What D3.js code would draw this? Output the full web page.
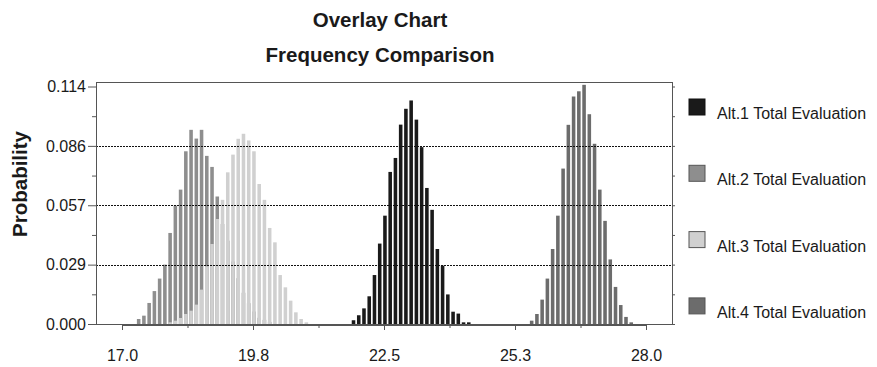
<!DOCTYPE html>
<html><head><meta charset="utf-8">
<script src="https://cdn.jsdelivr.net/npm/d3@7"></script>
<style>body{margin:0;background:#fff} svg{display:block} text{font-family:"Liberation Sans",Arial,sans-serif;fill:#1a1a1a}</style>
</head><body><svg id="c" width="877" height="367"></svg>
<script>
// ---- data ----
const seriesNames = ["Alt.1 Total Evaluation","Alt.2 Total Evaluation","Alt.3 Total Evaluation","Alt.4 Total Evaluation"];
const seriesColors = ["#1a1a1a","#8e8e8e","#d0d0d0","#6c6c6c"];
const binWidth = 0.11;
const alt1FirstBin = 21.86;
const alt1Values = [0.0018,0.0042,0.0075,0.0133,0.0235,0.0386,0.0520,0.0730,0.0797,0.0957,0.1033,0.1073,0.0981,0.0849,0.0653,0.0548,0.0360,0.0280,0.0142,0.0059,0.0050,0.0008,0.0008];
const alt2FirstBin = 17.35;
const alt2Values = [0.0024,0.0040,0.0101,0.0158,0.0218,0.0285,0.0437,0.0568,0.0645,0.0829,0.0932,0.0890,0.0932,0.0807,0.0754,0.0612,0.0480,0.0400,0.0300,0.0220,0.0150,0.0100,0.0060,0.0030,0.0020,0.0010];
const alt3FirstBin = 18.01;
const alt3Values = [0.0008,0.0016,0.0029,0.0048,0.0064,0.0093,0.0165,0.0277,0.0384,0.0504,0.0596,0.0728,0.0813,0.0889,0.0913,0.0881,0.0829,0.0672,0.0596,0.0461,0.0392,0.0235,0.0176,0.0112,0.0056,0.0024,0.0008];
const alt4FirstBin = 25.60;
const alt4Values = [0.0016,0.0048,0.0117,0.0218,0.0360,0.0520,0.0746,0.0956,0.1092,0.1117,0.1148,0.1007,0.0865,0.0645,0.0495,0.0310,0.0178,0.0091,0.0034,0.0008];
const xTickValues = [17.0, 19.75, 22.5, 25.25, 28.0];
const xTickLabels = ["17.0","19.8","22.5","25.3","28.0"];
const xMinorTicks = [18.375, 21.125, 23.875, 26.625];
const yTickValues = [0, 0.0285, 0.057, 0.0855, 0.114];
const yTickLabels = ["0.000","0.029","0.057","0.086","0.114"];
const yMinorTicks = [0.01425, 0.04275, 0.07125, 0.09975];
const gridValues = [0.0285, 0.057, 0.0855];

// ---- layout ----
const svg = d3.select("#c");
const plot = {left:96, right:672, top:82, bottom:324};
const x = d3.scaleLinear().domain([17.0, 28.0]).range([122, 646]);
const y = d3.scaleLinear().domain([0, 0.114]).range([324, 86.5]);

svg.append("rect").attr("width",877).attr("height",367).attr("fill","#fff");

const series = [
  {first: alt1FirstBin, values: alt1Values, color: seriesColors[0]},
  {first: alt2FirstBin, values: alt2Values, color: seriesColors[1]},
  {first: alt3FirstBin, values: alt3Values, color: seriesColors[2]},
  {first: alt4FirstBin, values: alt4Values, color: seriesColors[3]}
];
const bw = x(17 + binWidth*0.68) - x(17);
series.forEach(s => {
  svg.append("g").selectAll("rect")
    .data(s.values.map((v,i) => ({c: s.first + i*binWidth, v})))
    .join("rect")
    .attr("x", d => x(d.c) - bw/2)
    .attr("width", bw)
    .attr("y", d => y(d.v))
    .attr("height", d => y(0) - y(d.v))
    .attr("fill", s.color);
});

// gridlines
svg.append("g").selectAll("line").data(gridValues).join("line")
  .attr("x1", plot.left).attr("x2", plot.right)
  .attr("y1", d => Math.round(y(d)) + 0.5).attr("y2", d => Math.round(y(d)) + 0.5)
  .attr("stroke", "#111").attr("stroke-width", 1).attr("stroke-dasharray", "2,1")
  .attr("shape-rendering","crispEdges");

// frame
svg.append("rect").attr("x", plot.left + 0.5).attr("y", plot.top + 0.5)
  .attr("width", plot.right - plot.left).attr("height", plot.bottom - plot.top)
  .attr("fill","none").attr("stroke","#555").attr("shape-rendering","crispEdges");

// left axis
const yAxis = svg.append("g").attr("transform", `translate(${plot.left},0)`)
  .call(d3.axisLeft(y).tickValues(yTickValues).tickFormat((d,i) => yTickLabels[i]).tickSize(8).tickPadding(2).tickSizeOuter(0));
yAxis.select(".domain").remove();
yAxis.selectAll("line").attr("stroke","#555");
yAxis.selectAll("text").attr("font-size", 16).attr("font-family","Liberation Sans, Arial, sans-serif").attr("fill","#1a1a1a");
const yMinor = svg.append("g").attr("transform", `translate(${plot.left},0)`)
  .call(d3.axisLeft(y).tickValues(yMinorTicks).tickFormat("").tickSize(4).tickSizeOuter(0));
yMinor.select(".domain").remove();
yMinor.selectAll("line").attr("stroke","#555");

// right ticks
const yRight = svg.append("g").attr("transform", `translate(${plot.right},0)`)
  .call(d3.axisRight(y).tickValues(yTickValues.concat(yMinorTicks)).tickFormat("").tickSize(3).tickSizeOuter(0));
yRight.select(".domain").remove();
yRight.selectAll("line").attr("stroke","#555");

// bottom axis
const xAxis = svg.append("g").attr("transform", `translate(0,${plot.bottom+1})`)
  .call(d3.axisBottom(x).tickValues(xTickValues).tickFormat((d,i) => xTickLabels[i]).tickSize(5).tickSizeOuter(0));
xAxis.select(".domain").attr("stroke","#555");
xAxis.selectAll("line").attr("stroke","#555");
xAxis.selectAll("text").attr("y", 36).attr("dy", 0).attr("font-size", 16).attr("font-family","Liberation Sans, Arial, sans-serif").attr("fill","#1a1a1a");
const xMinor = svg.append("g").attr("transform", `translate(0,${plot.bottom+1})`)
  .call(d3.axisBottom(x).tickValues(xMinorTicks).tickFormat("").tickSize(3).tickSizeOuter(0));
xMinor.select(".domain").remove();
xMinor.selectAll("line").attr("stroke","#555");

// titles
svg.append("text").attr("x", 380).attr("y", 27).attr("text-anchor","middle")
  .attr("font-size", 20.5).attr("font-weight","bold").text("Overlay Chart");
svg.append("text").attr("x", 380).attr("y", 62).attr("text-anchor","middle")
  .attr("font-size", 20.5).attr("font-weight","bold").text("Frequency Comparison");
svg.append("text").attr("transform","translate(27,184) rotate(-90)").attr("text-anchor","middle")
  .attr("font-size", 20.5).attr("font-weight","bold").text("Probability");

// legend
const legend = svg.append("g").selectAll("g").data(seriesNames).join("g")
  .attr("transform", (d,i) => `translate(689,${99 + i*66.3})`);
legend.append("rect").attr("width",16).attr("height",16)
  .attr("fill", (d,i) => seriesColors[i]).attr("stroke", (d,i) => i===0 ? "#111" : "#555");
legend.append("text").attr("x", 28).attr("y", 20).attr("font-size", 16).text(d => d);
</script></body></html>
